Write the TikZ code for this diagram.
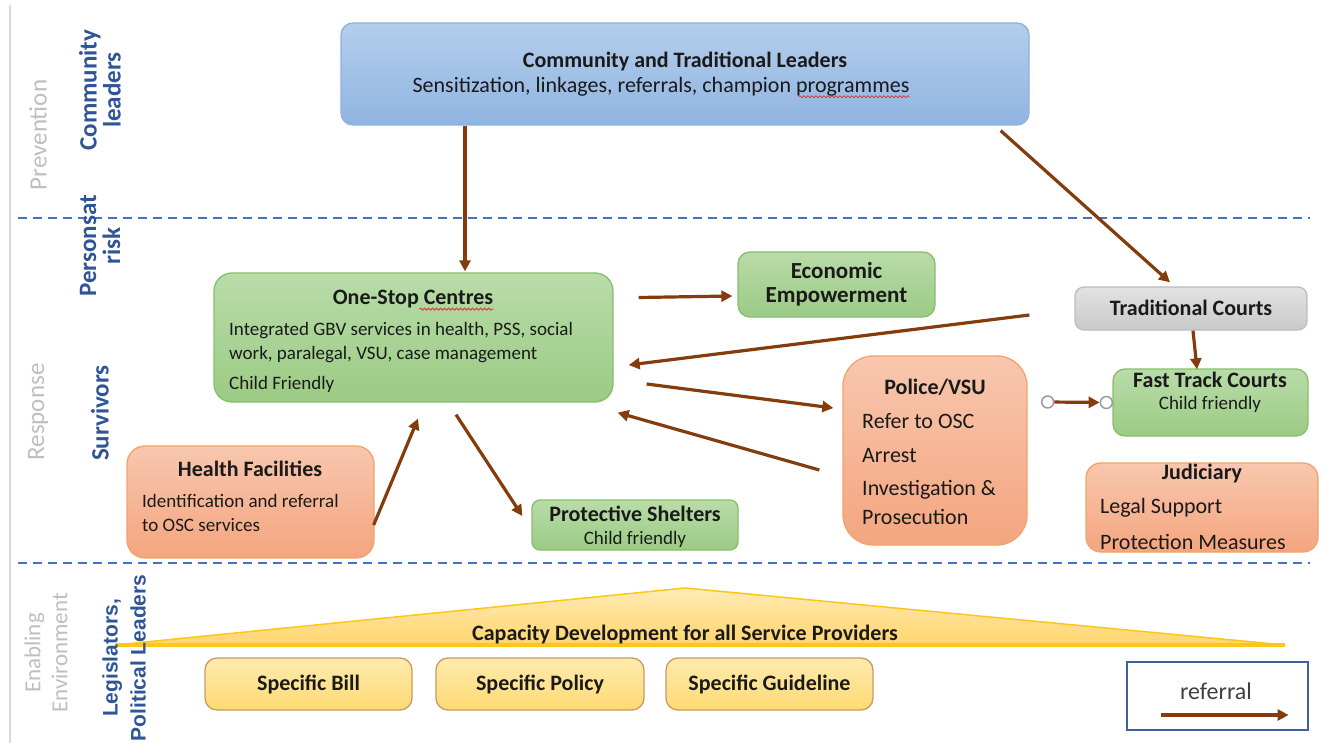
\documentclass[tikz,border=0pt]{standalone}
\usepackage{fontspec}
\setmainfont{Carlito}
\newfontfamily\arialf{Liberation Sans}
\usetikzlibrary{arrows.meta,calc,decorations.pathmorphing}
\definecolor{brn}{HTML}{843C0C}
\definecolor{dashblue}{HTML}{4472C4}
\definecolor{lblblue}{HTML}{2F5597}
\definecolor{lblgray}{HTML}{BFBFBF}
\definecolor{txt}{HTML}{1A1A1A}
\definecolor{legtxt}{HTML}{404040}
\definecolor{bluedge}{HTML}{8EB1DE}
\definecolor{bluetop}{HTML}{B4CEEC}
\definecolor{bluebot}{HTML}{90B4E1}
\definecolor{grnedge}{HTML}{86BF6C}
\definecolor{grntop}{HTML}{B9DCA9}
\definecolor{grnbot}{HTML}{9BCB84}
\definecolor{orgedge}{HTML}{F2A36A}
\definecolor{orgtop}{HTML}{F8C7AE}
\definecolor{orgbot}{HTML}{F4A57F}
\definecolor{gryedge}{HTML}{BDBDBD}
\definecolor{grytop}{HTML}{E2E2E2}
\definecolor{grybot}{HTML}{C9C9C9}
\definecolor{yeledge}{HTML}{C99B5E}
\definecolor{yeltop}{HTML}{FFEBAE}
\definecolor{yelbot}{HTML}{FFDA73}
\definecolor{circedge}{HTML}{9A9A9A}
\definecolor{triedge}{HTML}{FFC61A}
\definecolor{tritop}{HTML}{FFEBB3}
\definecolor{tribot}{HTML}{FFD56E}
\definecolor{legedge}{HTML}{3F5F9F}
\definecolor{leftline}{HTML}{D9D9D9}
\definecolor{spellred}{HTML}{E03030}
\tikzset{
  boxbase/.style={draw, line width=1.3pt, inner sep=0pt, rounded corners=12pt},
  bluebox/.style={boxbase, draw=bluedge, top color=bluetop, bottom color=bluebot},
  greenbox/.style={boxbase, draw=grnedge, top color=grntop, bottom color=grnbot},
  orangebox/.style={boxbase, draw=orgedge, top color=orgtop, bottom color=orgbot},
  graybox/.style={boxbase, draw=gryedge, top color=grytop, bottom color=grybot},
  yelbox/.style={boxbase, draw=yeledge, top color=yeltop, bottom color=yelbot},
  ttl/.style={font=\fontsize{#1}{#1}\selectfont\bfseries, text=txt, inner sep=0pt},
  ttl/.default=22,
  bdy/.style={font=\fontsize{#1}{#1}\selectfont, text=txt, inner sep=0pt},
  bdy/.default=19,
  lbdy/.style={bdy=#1, anchor=west},
  lbdy/.default=19,
  ref/.style={draw=brn, line width=3.2pt, -{Triangle[length=11pt,width=11pt]}},
  sep/.style={draw=dashblue, line width=2.6pt, dash pattern=on 9pt off 6pt},
  squig/.style={draw=spellred, line width=0.8pt, decorate, decoration={snake, segment length=4pt, amplitude=1pt}},
  sidegray/.style={font=\fontsize{25}{26}\selectfont, text=lblgray, rotate=90, align=center, inner sep=0pt},
  sideblue/.style={font=\fontsize{25}{24}\selectfont\bfseries, text=lblblue, rotate=90, align=center, inner sep=0pt},
  endc/.style={circle, draw=circedge, fill=white, line width=1.5pt, minimum size=12pt, inner sep=0pt},
}
\begin{document}
\begin{tikzpicture}[x=1pt,y=-1pt]
\useasboundingbox[fill=white] (0,0) rectangle (1325,743);
% left border line
\draw[leftline, line width=1.2pt] (10,5) -- (10,743);
% separators
\draw[sep] (18,218) -- (1310,218);
\draw[sep] (18,563) -- (1310,563);
% side labels
\node[sidegray] (lprev) at (38,135) {Prevention};
\node[sideblue] (lcomm) at (100,90) {Community\\leaders};
\node[sideblue] (lrisk) at (100,246) {Personsat\\risk};
\node[sidegray] (lresp) at (38,412) {Response};
\node[sideblue] (lsurv) at (100,413) {Survivors};
\node[sidegray, font=\fontsize{23}{27}\selectfont] (lenab) at (46,653) {Enabling\\Environment};
% capacity triangle
\path[draw=triedge, line width=1.5pt, top color=tritop, bottom color=tribot]
  (115,645) -- (685,588) -- (1285,645) -- cycle;
\draw[triedge, line width=3.5pt] (115,645) -- (1285,645);
\node[ttl=22] (cap) at (685,635) {Capacity Development for all Service Providers};
\node[font=\fontsize{21}{28}\selectfont\arialf\bfseries, text=lblblue, rotate=90, align=center, inner sep=0pt] (lleg) at (124,658) {Legislators,\\Political Leaders};
% boxes
\node[bluebox, minimum width=688pt, minimum height=102pt] (comm) at (685,74) {};
\node[ttl=22] (commt) at (685,61) {Community and Traditional Leaders};
\node[bdy=22] (commb) at (661,87) {Sensitization, linkages, referrals, champion programmes};
\draw[squig] ($(commb.south east)+(-111,0)$) -- ($(commb.south east)+(0,0)$);

\node[greenbox, rounded corners=18pt, minimum width=399pt, minimum height=129pt] (osc) at (413.5,337.5) {};
\node[ttl] (osct) at (413,299) {One-Stop Centres};
\draw[squig] ($(osct.south east)+(-74,1)$) -- ($(osct.south east)+(0,1)$);
\node[lbdy] (osc1) at (229,331) {Integrated GBV services in health, PSS, social};
\node[lbdy] (osc2) at (229,355) {work, paralegal, VSU, case management};
\node[lbdy] (osc3) at (229,384) {Child Friendly};

\node[greenbox, minimum width=197pt, minimum height=65pt] (econ) at (836.5,284.5) {};
\node[ttl=23, align=center] (econt) at (836.5,284.5) {Economic\\[1pt]Empowerment};

\node[graybox, rounded corners=9pt, minimum width=232pt, minimum height=43pt] (tc) at (1191,308.5) {};
\node[ttl] (tct) at (1191,308) {Traditional Courts};

\node[greenbox, minimum width=195pt, minimum height=67pt] (ftc) at (1210.5,402.5) {};
\node[ttl] (ftct) at (1210,380) {Fast Track Courts};
\node[bdy] (ftcb) at (1210,404) {Child friendly};

\node[orangebox, rounded corners=30pt, minimum width=184pt, minimum height=189pt] (pol) at (935,450.5) {};
\node[ttl] (polt) at (935,387) {Police/VSU};
\node[lbdy=22] (pol1) at (862,421) {Refer to OSC};
\node[lbdy=22] (pol2) at (862,456) {Arrest};
\node[lbdy=22] (pol3) at (862,490) {Investigation \&};
\node[lbdy=22] (pol4) at (862,517) {Prosecution};

\node[orangebox, rounded corners=15pt, minimum width=232pt, minimum height=89pt] (jud) at (1202,507.5) {};
\node[ttl] (judt) at (1202,474) {Judiciary};
\node[lbdy=22] (jud1) at (1100,508) {Legal Support};
\node[lbdy=22] (jud2) at (1100,542) {Protection Measures};

\node[orangebox, rounded corners=18pt, minimum width=247pt, minimum height=112pt] (hf) at (250.5,502) {};
\node[ttl] (hft) at (250,469) {Health Facilities};
\node[lbdy] (hf1) at (142,501) {Identification and referral};
\node[lbdy] (hf2) at (142,525) {to OSC services};

\node[greenbox, rounded corners=8pt, minimum width=206pt, minimum height=50pt] (sh) at (635,525) {};
\node[ttl] (sht) at (635,514) {Protective Shelters};
\node[bdy] (shb) at (635,539) {Child friendly};

\node[yelbox, minimum width=207pt, minimum height=52pt] (bill) at (308.5,684) {};
\node[ttl] (billt) at (bill) {Specific Bill};
\node[yelbox, minimum width=208pt, minimum height=52pt] (pcy) at (540,684) {};
\node[ttl] (pcyt) at (pcy) {Specific Policy};
\node[yelbox, minimum width=207pt, minimum height=52pt] (gdl) at (769.5,684) {};
\node[ttl] (gdlt) at (gdl) {Specific Guideline};

% legend
\node[draw=legedge, line width=1.2pt, minimum width=181pt, minimum height=68pt, inner sep=0pt] (leg) at (1217.5,696) {};
\node[bdy=24, text=legtxt] (legt) at (1216,691) {referral};
\coordinate (lega) at ($(leg.west)+(35,19)$);
\coordinate (legb) at ($(leg.east)+(-20,19)$);
\draw[ref] (lega) -- (legb);

% connectors
\draw[ref] ($(comm.south)+(-220,0)$) -- ($(osc.north)+(51.5,-1)$);
\draw[ref] ($(comm.south east)+(-29,5)$) -- ($(tc.north)+(-21,-4)$);
\draw[ref] ($(osc.east)+(25,-40)$) -- ($(econ.west)+(-5,11.5)$);
\draw[ref] ($(tc.west)+(-45,6.5)$) -- ($(osc.east)+(15,27.5)$);
\draw[ref] ($(osc.east)+(33,46.5)$) -- ($(pol.west)+(-9,-42.5)$);
\draw[ref] ($(pol.west)+(-23,19.5)$) -- ($(osc.south east)+(4,10)$);
\draw[ref] ($(hf.east)+(-1,23)$) -- ($(osc.south)+(4.5,16)$);
\draw[ref] ($(osc.south)+(42.5,12)$) -- ($(sh.west)+(-9,-9)$);
\draw[ref] ($(tc.south)+(2,0)$) -- ($(ftc.north)+(-13.5,1)$);
\node[endc] (c1) at ($(pol.east)+(20,-48.5)$) {};
\node[endc] (c2) at ($(ftc.west)+(-6,0)$) {};
\draw[ref] (c1) -- (c2);
\end{tikzpicture}
\end{document}
